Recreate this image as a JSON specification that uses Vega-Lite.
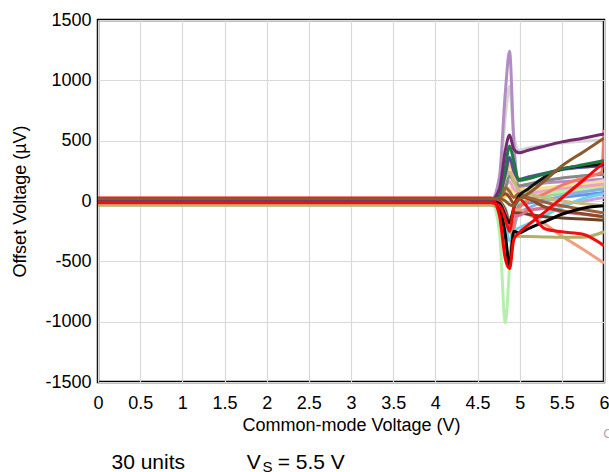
{
  "$schema": "https://vega.github.io/schema/vega-lite/v6.json",
  "width": 506,
  "height": 362,
  "autosize": {"type": "none"},
  "padding": {"left": 98, "top": 20, "right": 5, "bottom": 90},
  "background": "white",
  "config": {
    "font": "Liberation Sans",
    "view": {"stroke": "#000000", "strokeWidth": 2.5},
    "axis": {"domain": false, "ticks": false, "tickSize": 0, "grid": true, "gridColor": "#d9d9d9", "gridWidth": 1.2, "labelFont": "Liberation Sans", "labelFontSize": 18, "labelColor": "#000000", "titleFont": "Liberation Sans", "titleFontSize": 18, "titleFontWeight": "normal", "titleColor": "#000000"}
  },
  "datasets": {
    "units": [
      {"u":"s02","x":0,"y":0},{"u":"s02","x":4.66,"y":0},{"u":"s02","x":4.76,"y":150},{"u":"s02","x":4.83,"y":700},{"u":"s02","x":4.88,"y":950},{"u":"s02","x":4.93,"y":550},{"u":"s02","x":4.99,"y":420},{"u":"s02","x":5.1,"y":440},{"u":"s02","x":5.3,"y":460},{"u":"s02","x":5.5,"y":480},{"u":"s02","x":5.75,"y":495},{"u":"s02","x":6.0,"y":505},
      {"u":"s01","x":0,"y":5},{"u":"s01","x":4.66,"y":5},{"u":"s01","x":4.76,"y":200},{"u":"s01","x":4.83,"y":900},{"u":"s01","x":4.88,"y":1240},{"u":"s01","x":4.93,"y":500},{"u":"s01","x":4.99,"y":120},{"u":"s01","x":5.1,"y":130},{"u":"s01","x":5.3,"y":150},{"u":"s01","x":5.5,"y":160},{"u":"s01","x":5.75,"y":170},{"u":"s01","x":6.0,"y":180},
      {"u":"s25","x":0,"y":0},{"u":"s25","x":4.66,"y":0},{"u":"s25","x":4.76,"y":20},{"u":"s25","x":4.83,"y":100},{"u":"s25","x":4.88,"y":320},{"u":"s25","x":4.93,"y":200},{"u":"s25","x":4.99,"y":100},{"u":"s25","x":5.1,"y":90},{"u":"s25","x":5.3,"y":100},{"u":"s25","x":5.5,"y":120},{"u":"s25","x":5.75,"y":130},{"u":"s25","x":6.0,"y":140},
      {"u":"s24","x":0,"y":0},{"u":"s24","x":4.66,"y":0},{"u":"s24","x":4.76,"y":10},{"u":"s24","x":4.83,"y":60},{"u":"s24","x":4.88,"y":90},{"u":"s24","x":4.93,"y":70},{"u":"s24","x":4.99,"y":40},{"u":"s24","x":5.1,"y":60},{"u":"s24","x":5.3,"y":90},{"u":"s24","x":5.5,"y":110},{"u":"s24","x":5.75,"y":140},{"u":"s24","x":6.0,"y":170},
      {"u":"s19","x":0,"y":0},{"u":"s19","x":4.66,"y":0},{"u":"s19","x":4.76,"y":20},{"u":"s19","x":4.83,"y":80},{"u":"s19","x":4.88,"y":110},{"u":"s19","x":4.93,"y":60},{"u":"s19","x":4.99,"y":80},{"u":"s19","x":5.1,"y":100},{"u":"s19","x":5.3,"y":110},{"u":"s19","x":5.5,"y":125},{"u":"s19","x":5.75,"y":140},{"u":"s19","x":6.0,"y":150},
      {"u":"s20","x":0,"y":-10},{"u":"s20","x":4.66,"y":-10},{"u":"s20","x":4.76,"y":0},{"u":"s20","x":4.83,"y":40},{"u":"s20","x":4.88,"y":60},{"u":"s20","x":4.93,"y":30},{"u":"s20","x":4.99,"y":50},{"u":"s20","x":5.1,"y":60},{"u":"s20","x":5.3,"y":75},{"u":"s20","x":5.5,"y":90},{"u":"s20","x":5.75,"y":110},{"u":"s20","x":6.0,"y":130},
      {"u":"s21","x":0,"y":5},{"u":"s21","x":4.66,"y":5},{"u":"s21","x":4.76,"y":30},{"u":"s21","x":4.83,"y":120},{"u":"s21","x":4.88,"y":160},{"u":"s21","x":4.93,"y":100},{"u":"s21","x":4.99,"y":70},{"u":"s21","x":5.1,"y":60},{"u":"s21","x":5.3,"y":80},{"u":"s21","x":5.5,"y":100},{"u":"s21","x":5.75,"y":120},{"u":"s21","x":6.0,"y":140},
      {"u":"s23","x":0,"y":0},{"u":"s23","x":4.66,"y":0},{"u":"s23","x":4.76,"y":20},{"u":"s23","x":4.83,"y":100},{"u":"s23","x":4.88,"y":210},{"u":"s23","x":4.93,"y":160},{"u":"s23","x":4.99,"y":125},{"u":"s23","x":5.1,"y":140},{"u":"s23","x":5.3,"y":170},{"u":"s23","x":5.5,"y":190},{"u":"s23","x":5.75,"y":210},{"u":"s23","x":6.0,"y":220},
      {"u":"s26","x":0,"y":0},{"u":"s26","x":4.66,"y":0},{"u":"s26","x":4.76,"y":-10},{"u":"s26","x":4.83,"y":-60},{"u":"s26","x":4.88,"y":-150},{"u":"s26","x":4.93,"y":-80},{"u":"s26","x":4.99,"y":-20},{"u":"s26","x":5.1,"y":10},{"u":"s26","x":5.3,"y":40},{"u":"s26","x":5.5,"y":60},{"u":"s26","x":5.75,"y":80},{"u":"s26","x":6.0,"y":100},
      {"u":"s27","x":0,"y":0},{"u":"s27","x":4.66,"y":0},{"u":"s27","x":4.76,"y":-20},{"u":"s27","x":4.83,"y":-80},{"u":"s27","x":4.88,"y":-220},{"u":"s27","x":4.93,"y":-100},{"u":"s27","x":4.99,"y":-40},{"u":"s27","x":5.1,"y":-20},{"u":"s27","x":5.3,"y":10},{"u":"s27","x":5.5,"y":30},{"u":"s27","x":5.75,"y":50},{"u":"s27","x":6.0,"y":70},
      {"u":"s28","x":0,"y":5},{"u":"s28","x":4.66,"y":5},{"u":"s28","x":4.76,"y":-20},{"u":"s28","x":4.83,"y":-150},{"u":"s28","x":4.88,"y":-260},{"u":"s28","x":4.93,"y":-150},{"u":"s28","x":4.99,"y":-100},{"u":"s28","x":5.1,"y":-80},{"u":"s28","x":5.3,"y":-60},{"u":"s28","x":5.5,"y":-30},{"u":"s28","x":5.75,"y":0},{"u":"s28","x":6.0,"y":30},
      {"u":"s06","x":0,"y":-5},{"u":"s06","x":4.66,"y":-5},{"u":"s06","x":4.76,"y":-250},{"u":"s06","x":4.83,"y":-1010},{"u":"s06","x":4.88,"y":-550},{"u":"s06","x":4.93,"y":-80},{"u":"s06","x":4.99,"y":0},{"u":"s06","x":5.1,"y":30},{"u":"s06","x":5.3,"y":60},{"u":"s06","x":5.5,"y":80},{"u":"s06","x":5.75,"y":95},{"u":"s06","x":6.0,"y":105},
      {"u":"s09","x":0,"y":0},{"u":"s09","x":4.66,"y":0},{"u":"s09","x":4.76,"y":-100},{"u":"s09","x":4.83,"y":-420},{"u":"s09","x":4.88,"y":-530},{"u":"s09","x":4.93,"y":-250},{"u":"s09","x":4.99,"y":-100},{"u":"s09","x":5.1,"y":-60},{"u":"s09","x":5.3,"y":0},{"u":"s09","x":5.5,"y":40},{"u":"s09","x":5.75,"y":75},{"u":"s09","x":6.0,"y":100},
      {"u":"s10","x":0,"y":0},{"u":"s10","x":4.66,"y":0},{"u":"s10","x":4.76,"y":-80},{"u":"s10","x":4.83,"y":-360},{"u":"s10","x":4.88,"y":-450},{"u":"s10","x":4.93,"y":-200},{"u":"s10","x":4.99,"y":-60},{"u":"s10","x":5.1,"y":0},{"u":"s10","x":5.3,"y":60},{"u":"s10","x":5.5,"y":130},{"u":"s10","x":5.75,"y":190},{"u":"s10","x":5.97,"y":240},{"u":"s10","x":6.0,"y":590},
      {"u":"s16","x":0,"y":0},{"u":"s16","x":4.66,"y":0},{"u":"s16","x":4.76,"y":-30},{"u":"s16","x":4.83,"y":-120},{"u":"s16","x":4.88,"y":-150},{"u":"s16","x":4.93,"y":-90},{"u":"s16","x":4.99,"y":-70},{"u":"s16","x":5.1,"y":-110},{"u":"s16","x":5.3,"y":-190},{"u":"s16","x":5.5,"y":-290},{"u":"s16","x":5.75,"y":-400},{"u":"s16","x":6.0,"y":-515},
      {"u":"s13","x":0,"y":0},{"u":"s13","x":4.66,"y":0},{"u":"s13","x":4.76,"y":-40},{"u":"s13","x":4.83,"y":-180},{"u":"s13","x":4.88,"y":-330},{"u":"s13","x":4.93,"y":-250},{"u":"s13","x":4.99,"y":-225},{"u":"s13","x":5.1,"y":-190},{"u":"s13","x":5.3,"y":-120},{"u":"s13","x":5.5,"y":-50},{"u":"s13","x":5.75,"y":20},{"u":"s13","x":6.0,"y":60},
      {"u":"s14","x":0,"y":-35},{"u":"s14","x":4.66,"y":-35},{"u":"s14","x":4.76,"y":-60},{"u":"s14","x":4.83,"y":-160},{"u":"s14","x":4.88,"y":-250},{"u":"s14","x":4.93,"y":-285},{"u":"s14","x":4.99,"y":-295},{"u":"s14","x":5.1,"y":-295},{"u":"s14","x":5.3,"y":-298},{"u":"s14","x":5.5,"y":-300},{"u":"s14","x":5.75,"y":-300},{"u":"s14","x":6.0,"y":-255},
      {"u":"s15","x":0,"y":-25},{"u":"s15","x":4.66,"y":-25},{"u":"s15","x":4.76,"y":40},{"u":"s15","x":4.83,"y":190},{"u":"s15","x":4.88,"y":240},{"u":"s15","x":4.93,"y":160},{"u":"s15","x":4.99,"y":90},{"u":"s15","x":5.1,"y":60},{"u":"s15","x":5.3,"y":25},{"u":"s15","x":5.5,"y":0},{"u":"s15","x":5.75,"y":-20},{"u":"s15","x":6.0,"y":-40},
      {"u":"s22","x":0,"y":0},{"u":"s22","x":4.66,"y":0},{"u":"s22","x":4.76,"y":40},{"u":"s22","x":4.83,"y":220},{"u":"s22","x":4.88,"y":360},{"u":"s22","x":4.93,"y":250},{"u":"s22","x":4.99,"y":180},{"u":"s22","x":5.1,"y":200},{"u":"s22","x":5.3,"y":230},{"u":"s22","x":5.5,"y":260},{"u":"s22","x":5.75,"y":280},{"u":"s22","x":6.0,"y":290},
      {"u":"s29","x":0,"y":20},{"u":"s29","x":4.66,"y":20},{"u":"s29","x":4.76,"y":0},{"u":"s29","x":4.83,"y":-80},{"u":"s29","x":4.88,"y":-180},{"u":"s29","x":4.93,"y":-100},{"u":"s29","x":4.99,"y":-100},{"u":"s29","x":5.1,"y":-110},{"u":"s29","x":5.3,"y":-130},{"u":"s29","x":5.5,"y":-140},{"u":"s29","x":5.75,"y":-150},{"u":"s29","x":6.0,"y":-160},
      {"u":"s30","x":0,"y":0},{"u":"s30","x":4.66,"y":0},{"u":"s30","x":4.76,"y":-10},{"u":"s30","x":4.83,"y":-100},{"u":"s30","x":4.88,"y":-200},{"u":"s30","x":4.93,"y":-120},{"u":"s30","x":4.99,"y":-120},{"u":"s30","x":5.1,"y":-80},{"u":"s30","x":5.3,"y":-60},{"u":"s30","x":5.5,"y":-90},{"u":"s30","x":5.75,"y":-110},{"u":"s30","x":6.0,"y":-130},
      {"u":"s17","x":0,"y":15},{"u":"s17","x":4.66,"y":15},{"u":"s17","x":4.76,"y":30},{"u":"s17","x":4.83,"y":60},{"u":"s17","x":4.88,"y":30},{"u":"s17","x":4.93,"y":-20},{"u":"s17","x":4.99,"y":40},{"u":"s17","x":5.1,"y":20},{"u":"s17","x":5.3,"y":-50},{"u":"s17","x":5.5,"y":-80},{"u":"s17","x":5.75,"y":-105},{"u":"s17","x":6.0,"y":-130},
      {"u":"s18","x":0,"y":10},{"u":"s18","x":4.66,"y":10},{"u":"s18","x":4.76,"y":20},{"u":"s18","x":4.83,"y":110},{"u":"s18","x":4.88,"y":80},{"u":"s18","x":4.93,"y":30},{"u":"s18","x":4.99,"y":60},{"u":"s18","x":5.1,"y":30},{"u":"s18","x":5.3,"y":-10},{"u":"s18","x":5.5,"y":-40},{"u":"s18","x":5.75,"y":-70},{"u":"s18","x":6.0,"y":-100},
      {"u":"s12","x":0,"y":0},{"u":"s12","x":4.66,"y":0},{"u":"s12","x":4.76,"y":-20},{"u":"s12","x":4.83,"y":-120},{"u":"s12","x":4.88,"y":-180},{"u":"s12","x":4.93,"y":-60},{"u":"s12","x":4.99,"y":40},{"u":"s12","x":5.1,"y":100},{"u":"s12","x":5.3,"y":200},{"u":"s12","x":5.5,"y":265},{"u":"s12","x":5.75,"y":290},{"u":"s12","x":6.0,"y":305},
      {"u":"s11","x":0,"y":5},{"u":"s11","x":4.66,"y":5},{"u":"s11","x":4.76,"y":-60},{"u":"s11","x":4.83,"y":-280},{"u":"s11","x":4.88,"y":-540},{"u":"s11","x":4.93,"y":-250},{"u":"s11","x":4.99,"y":-265},{"u":"s11","x":5.1,"y":-230},{"u":"s11","x":5.3,"y":-170},{"u":"s11","x":5.5,"y":-110},{"u":"s11","x":5.75,"y":-60},{"u":"s11","x":6.0,"y":-40},
      {"u":"s04","x":0,"y":5},{"u":"s04","x":4.66,"y":5},{"u":"s04","x":4.76,"y":50},{"u":"s04","x":4.83,"y":280},{"u":"s04","x":4.88,"y":455},{"u":"s04","x":4.93,"y":330},{"u":"s04","x":4.99,"y":170},{"u":"s04","x":5.1,"y":185},{"u":"s04","x":5.3,"y":225},{"u":"s04","x":5.5,"y":265},{"u":"s04","x":5.75,"y":300},{"u":"s04","x":6.0,"y":335},
      {"u":"s03","x":0,"y":10},{"u":"s03","x":4.66,"y":10},{"u":"s03","x":4.76,"y":100},{"u":"s03","x":4.83,"y":420},{"u":"s03","x":4.88,"y":547},{"u":"s03","x":4.93,"y":430},{"u":"s03","x":4.99,"y":400},{"u":"s03","x":5.1,"y":420},{"u":"s03","x":5.3,"y":455},{"u":"s03","x":5.5,"y":490},{"u":"s03","x":5.75,"y":520},{"u":"s03","x":6.0,"y":555},
      {"u":"s08","x":0,"y":-15},{"u":"s08","x":4.66,"y":-15},{"u":"s08","x":4.76,"y":-40},{"u":"s08","x":4.83,"y":-150},{"u":"s08","x":4.88,"y":-250},{"u":"s08","x":4.93,"y":-60},{"u":"s08","x":4.99,"y":20},{"u":"s08","x":5.1,"y":-60},{"u":"s08","x":5.3,"y":-230},{"u":"s08","x":5.5,"y":-255},{"u":"s08","x":5.75,"y":-275},{"u":"s08","x":6.0,"y":-370},
      {"u":"s07","x":0,"y":25},{"u":"s07","x":4.66,"y":25},{"u":"s07","x":4.76,"y":-120},{"u":"s07","x":4.83,"y":-480},{"u":"s07","x":4.88,"y":-560},{"u":"s07","x":4.93,"y":-320},{"u":"s07","x":4.99,"y":-265},{"u":"s07","x":5.1,"y":-200},{"u":"s07","x":5.3,"y":-90},{"u":"s07","x":5.5,"y":25},{"u":"s07","x":5.75,"y":170},{"u":"s07","x":6.0,"y":320},
      {"u":"s05","x":0,"y":18},{"u":"s05","x":4.66,"y":18},{"u":"s05","x":4.76,"y":20},{"u":"s05","x":4.83,"y":0},{"u":"s05","x":4.88,"y":-30},{"u":"s05","x":4.93,"y":-40},{"u":"s05","x":4.99,"y":10},{"u":"s05","x":5.1,"y":60},{"u":"s05","x":5.3,"y":170},{"u":"s05","x":5.5,"y":290},{"u":"s05","x":5.75,"y":405},{"u":"s05","x":6.0,"y":520}
    ]
  },
  "layer": [
    {
      "data": {"name": "units"},
      "mark": {"type": "line", "strokeWidth": 3, "interpolate": "monotone", "clip": true},
      "encoding": {
        "x": {"field": "x", "type": "quantitative", "scale": {"domain": [0, 6], "nice": false, "zero": false},
              "axis": {"values": [0,0.5,1,1.5,2,2.5,3,3.5,4,4.5,5,5.5,6], "labelExpr": "toString(datum.value)", "labelPadding": 12, "labelFlush": false, "labelOverlap": false, "title": "Common-mode Voltage (V)", "titleY": 48, "titleBaseline": "alphabetic"}},
        "y": {"field": "y", "type": "quantitative", "scale": {"domain": [-1500, 1500], "nice": false, "zero": false},
              "axis": {"values": [-1500,-1000,-500,0,500,1000,1500], "labelExpr": "toString(datum.value)", "labelPadding": 7, "labelFlush": false, "labelOverlap": false, "title": "Offset Voltage (µV)", "titleX": -73, "titleY": 181, "titleAngle": -90, "titleAlign": "center", "titleBaseline": "alphabetic"}},
        "color": {"field": "u", "type": "nominal", "legend": null, "sort": null,
          "scale": {
            "domain": ["s02","s01","s25","s24","s19","s20","s21","s23","s26","s27","s28","s06","s09","s10","s16","s13","s14","s15","s22","s29","s30","s17","s18","s12","s11","s04","s03","s08","s07","s05"],
            "range": ["#d4d4d4","#b48cc4","#fbc08a","#f8c8d8","#f0e68c","#f2da50","#f0a0c8","#888888","#98d898","#6495ed","#c8a0e0","#b4f0ac","#88b0e0","#f07b6b","#f0a080","#70d0ec","#b0b068","#c4bc7a","#584c98","#6b4226","#d87093","#8b4a2a","#a0603a","#111111","#000000","#1e7b46","#722c6e","#ee1111","#ff0000","#8c5a2c"]
          }}
      }
    },
    {
      "data": {"values": [{}]},
      "mark": {"type": "text", "align": "left", "baseline": "alphabetic", "fontSize": 21, "font": "Liberation Sans", "color": "#000000"},
      "encoding": {"x": {"datum": 0.16, "type": "quantitative"}, "y": {"datum": -2221, "type": "quantitative"}, "text": {"value": "30 units"}}
    },
    {
      "data": {"values": [{}]},
      "mark": {"type": "text", "align": "left", "baseline": "alphabetic", "fontSize": 21, "font": "Liberation Sans", "color": "#000000"},
      "encoding": {"x": {"datum": 1.763, "type": "quantitative"}, "y": {"datum": -2221, "type": "quantitative"}, "text": {"value": "V"}}
    },
    {
      "data": {"values": [{}]},
      "mark": {"type": "text", "align": "left", "baseline": "alphabetic", "fontSize": 15, "font": "Liberation Sans", "color": "#000000"},
      "encoding": {"x": {"datum": 1.95, "type": "quantitative"}, "y": {"datum": -2242, "type": "quantitative"}, "text": {"value": "S"}}
    },
    {
      "data": {"values": [{}]},
      "mark": {"type": "text", "align": "left", "baseline": "alphabetic", "fontSize": 21, "font": "Liberation Sans", "color": "#000000"},
      "encoding": {"x": {"datum": 2.13, "type": "quantitative"}, "y": {"datum": -2221, "type": "quantitative"}, "text": {"value": "= 5.5 V"}}
    },
    {
      "data": {"values": [{}]},
      "mark": {"type": "text", "align": "left", "baseline": "alphabetic", "fontSize": 13, "font": "Liberation Sans", "color": "#a8a8a8"},
      "encoding": {"x": {"datum": 5.99, "type": "quantitative"}, "y": {"datum": -1960, "type": "quantitative"}, "text": {"value": "C001"}}
    }
  ]
}
